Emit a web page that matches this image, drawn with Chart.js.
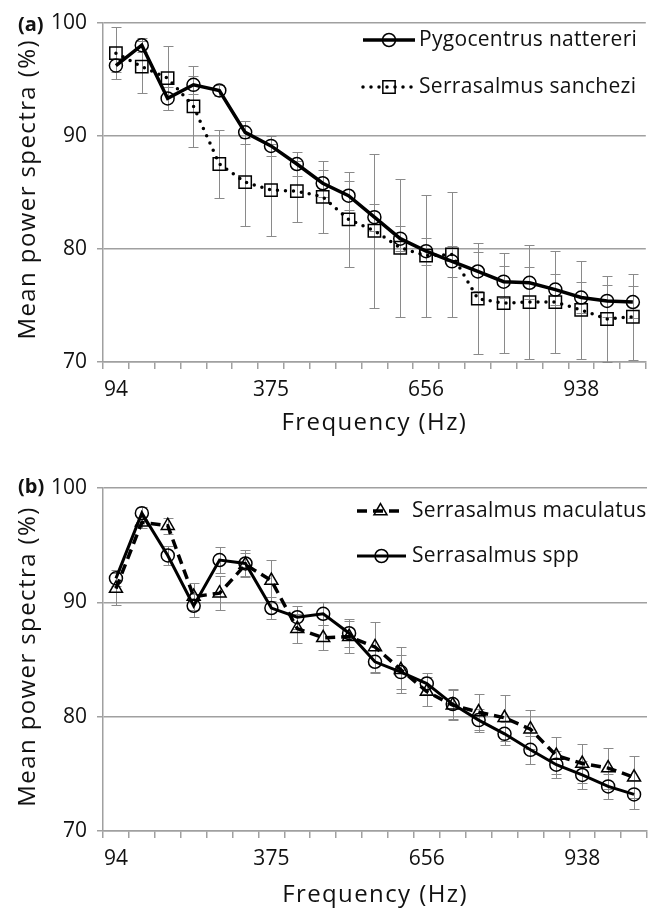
<!DOCTYPE html>
<html>
<head>
<meta charset="utf-8">
<script src="https://cdn.jsdelivr.net/npm/chart.js"></script>
<style>
  html, body { margin: 0; padding: 0; background: #fff; }
  #wrap { position: relative; width: 656px; height: 909px; }
  .panel { position: absolute; left: 0; width: 656px; }
  #panelA { top: 0; height: 445px; }
  #panelB { top: 462px; height: 447px; }
</style>
</head>
<body>
<div id="wrap">
  <div class="panel" id="panelA"><canvas id="chartA" width="656" height="445"></canvas></div>
  <div class="panel" id="panelB"><canvas id="chartB" width="656" height="447"></canvas></div>
</div>
<script>
'use strict';

// ─── Data ─────────────────────────────────────────────────────────────────────

const freqLabels = ['94', '141', '188', '234', '281', '328', '375', '422', '469', '516', '563',
                    '609', '656', '703', '750', '797', '844', '891', '938', '984', '1031'];

// panel (a)
const nattereri     = [96.2, 98.0, 93.3, 94.5, 94.0, 90.3, 89.1, 87.5, 85.8, 84.7, 82.8,
                       80.9, 79.8, 78.9, 78.0, 77.1, 77.0, 76.4, 75.7, 75.4, 75.3];
const nattereriErr  = [0.6, 0.6, 1.0, 0.8, 0.5, 1.0, 0.9, 1.1, 1.2, 1.3, 1.2,
                       1.1, 1.2, 1.35, 1.7, 1.4, 1.4, 1.4, 1.4, 1.45, 1.45];
const sanchezi      = [97.3, 96.1, 95.1, 92.6, 87.5, 85.9, 85.2, 85.1, 84.6, 82.6, 81.6,
                       80.1, 79.4, 79.5, 75.6, 75.2, 75.3, 75.3, 74.6, 73.8, 74.0];
const sanchezErr    = [2.3, 2.3, 2.8, 3.6, 3.0, 3.9, 4.1, 2.7, 3.2, 4.2, 6.8,
                       6.1, 5.4, 5.5, 4.9, 4.4, 5.0, 4.5, 4.3, 3.8, 3.8];

// panel (b)
const maculatus     = [91.2, 97.0, 96.7, 90.5, 90.8, 93.3, 91.9, 87.7, 86.9, 87.0, 86.1,
                       84.1, 82.2, 81.0, 80.4, 79.9, 78.9, 76.6, 75.9, 75.5, 74.7];
const maculatusErr  = [1.4, 0.5, 0.7, 1.2, 1.5, 1.0, 1.8, 1.3, 1.1, 1.4, 2.2,
                       2.0, 1.3, 1.3, 1.6, 2.0, 1.7, 1.6, 1.7, 1.8, 1.85];
const sppMean       = [92.1, 97.8, 94.1, 89.7, 93.7, 93.4, 89.5, 88.7, 89.0, 87.3, 84.8,
                       83.9, 82.9, 81.1, 79.7, 78.5, 77.1, 75.8, 74.9, 73.9, 73.2];
const sppErr        = [0.7, 0.5, 0.8, 1.0, 1.1, 1.2, 1.0, 1.0, 1.0, 1.2, 1.0,
                       1.5, 0.9, 1.3, 1.0, 1.0, 1.2, 1.2, 1.2, 1.1, 1.25];

const yTicks = [70, 80, 90, 100];

const X_TITLE = 'Frequency (Hz)';
const Y_TITLE = 'Mean power spectra (%)';

// ─── Styling ──────────────────────────────────────────────────────────────────

const FONT  = "'Open Sans', 'Noto Sans', sans-serif";
const INK   = '#111';
const GRID  = '#a0a0a0';
const ERR   = '#8a8a8a';
const CLEAR = 'rgba(255,255,255,0)';

Chart.defaults.font.family = FONT;
Chart.defaults.font.size   = 21;
Chart.defaults.color       = INK;

// ─── Plugins ──────────────────────────────────────────────────────────────────

// vertical error bars with caps, drawn under the series lines
const errorBars = {
  id: 'errorBars',
  beforeDatasetsDraw(chart) {
    const ctx = chart.ctx;
    const y = chart.scales.y;
    ctx.save();
    ctx.strokeStyle = ERR;
    ctx.lineWidth = 1;
    chart.data.datasets.forEach((ds, i) => {
      const meta = chart.getDatasetMeta(i);
      meta.data.forEach((pt, j) => {
        const v = ds.data[j], e = ds.errors[j];
        const x  = Math.round(pt.x) + 0.5;
        const y0 = Math.round(y.getPixelForValue(v + e)) + 0.5;
        const y1 = Math.round(y.getPixelForValue(v - e)) + 0.5;
        ctx.beginPath();
        ctx.moveTo(x, y0); ctx.lineTo(x, y1);
        ctx.moveTo(x - 5, y0); ctx.lineTo(x + 5, y0);
        ctx.moveTo(x - 5, y1); ctx.lineTo(x + 5, y1);
        ctx.stroke();
      });
    });
    ctx.restore();
  },
};

// legend drawn inside the plot, Excel style (line – marker – line, then text)
const insetLegend = {
  id: 'insetLegend',
  afterDraw(chart, args, opts) {
    if (!opts.items) return;
    const ctx = chart.ctx;
    ctx.save();
    ctx.textBaseline = 'middle';
    ctx.textAlign = 'left';
    opts.items.forEach(item => {
      const ds = chart.data.datasets[item.index];
      ctx.strokeStyle = ds.borderColor;
      ctx.lineWidth = ds.borderWidth;
      ctx.lineCap = ds.borderCapStyle || 'butt';
      ctx.setLineDash(ds.borderDash || []);
      ctx.beginPath();
      ctx.moveTo(item.x0, item.y);
      ctx.lineTo(item.x1, item.y);
      ctx.stroke();
      ctx.setLineDash([]);
      ctx.lineCap = 'butt';
      ctx.strokeStyle = ds.pointBorderColor;
      ctx.fillStyle = ds.pointBackgroundColor;
      ctx.lineWidth = ds.pointBorderWidth;
      Chart.helpers.drawPoint(ctx, {
        pointStyle: ds.pointStyle,
        radius: ds.pointRadius,
        borderWidth: ds.pointBorderWidth,
        rotation: 0,
      }, (item.x0 + item.x1) / 2, item.y);
      ctx.fillStyle = INK;
      ctx.font = `21px ${FONT}`;
      ctx.letterSpacing = '0.3px';
      ctx.fillText(ds.label, item.tx, item.y);
      ctx.letterSpacing = '0px';
    });
    ctx.restore();
  },
};

// "(a)" / "(b)" tag and the two axis titles (Excel spaces its letters a bit wider)
const decor = {
  id: 'decor',
  afterDraw(chart, args, opts) {
    const ctx = chart.ctx;
    const area = chart.chartArea;
    ctx.save();
    ctx.fillStyle = INK;
    ctx.textBaseline = 'middle';

    ctx.font = `bold 20px ${FONT}`;
    ctx.textAlign = 'left';
    ctx.fillText(opts.tag, 18, opts.tagY);

    ctx.font = `24px ${FONT}`;
    ctx.letterSpacing = '1.4px';
    ctx.textAlign = 'center';
    ctx.fillText(X_TITLE, (area.left + area.right) / 2, opts.xTitleY);

    ctx.translate(28, (area.top + area.bottom) / 2 - 3);
    ctx.rotate(-Math.PI / 2);
    ctx.fillText(Y_TITLE, 0, 0);
    ctx.restore();
  },
};

// ─── Chart factory ────────────────────────────────────────────────────────────

function series(label, data, errors, style) {
  return Object.assign({
    label,
    data,
    errors,
    borderColor: '#000',
    pointBorderColor: '#000',
    pointBackgroundColor: CLEAR,
    pointBorderWidth: 1.5,
    pointHoverRadius: 0,
    tension: 0,
    fill: false,
  }, style);
}

const SOLID   = { borderWidth: 3.5, pointStyle: 'circle', pointRadius: 6.5 };
const DOTTED  = { borderWidth: 3.5, borderDash: [0, 8], borderCapStyle: 'round', pointStyle: 'rect', pointRadius: 8.7 };
const DASHED  = { borderWidth: 3.5, borderDash: [10, 6], pointStyle: 'triangle', pointRadius: 7.5 };

function buildPanel(id, cfg) {
  return new Chart(document.getElementById(id), {
    type: 'line',
    data: { labels: freqLabels, datasets: cfg.datasets },
    plugins: [errorBars, insetLegend, decor],
    options: {
      responsive: false,
      animation: false,
      events: [],
      layout: { padding: { top: cfg.padTop, right: 3, left: 0, bottom: 0 } },
      plugins: {
        legend: { display: false },
        tooltip: { enabled: false },
        insetLegend: { items: cfg.legend },
        decor: { tag: cfg.tag, tagY: 25, xTitleY: cfg.xTitleY },
      },
      scales: {
        x: {
          type: 'category',
          offset: true,
          afterFit: s => { s.height = cfg.xHeight; },
          grid: { offset: true, drawOnChartArea: false, drawTicks: true, tickLength: 7, color: GRID, lineWidth: 1.5 },
          border: { color: GRID, width: 1.5 },
          ticks: {
            autoSkip: false,
            maxRotation: 0,
            padding: 8,
            color: INK,
            callback(v, i) { return i % 6 === 0 ? this.getLabelForValue(v) : ''; },
          },
        },
        y: {
          min: 70,
          max: 100,
          afterFit: s => { s.width = 103; },
          afterBuildTicks: s => { s.ticks = yTicks.map(v => ({ value: v })); },
          grid: { color: GRID, lineWidth: 1.5, tickLength: 6 },
          border: { color: GRID, width: 1.5 },
          ticks: { padding: 10, color: INK },
        },
      },
    },
  });
}

// ─── Build both panels ────────────────────────────────────────────────────────

buildPanel('chartA', {
  tag: '(a)',
  padTop: 19,
  xHeight: 83,
  xTitleY: 423,
  datasets: [
    series('Pygocentrus nattereri', nattereri, nattereriErr, SOLID),
    series('Serrasalmus sanchezi', sanchezi, sanchezErr, DOTTED),
  ],
  legend: [
    { index: 0, x0: 363, x1: 415, tx: 419, y: 40 },
    { index: 1, x0: 363, x1: 415, tx: 419, y: 87 },
  ],
});

buildPanel('chartB', {
  tag: '(b)',
  padTop: 26,
  xHeight: 78,
  xTitleY: 433,
  datasets: [
    series('Serrasalmus spp', sppMean, sppErr, Object.assign({}, SOLID, { borderWidth: 3 })),
    series('Serrasalmus maculatus', maculatus, maculatusErr, DASHED),
  ],
  legend: [
    { index: 1, x0: 357, x1: 404, tx: 412, y: 49 },
    { index: 0, x0: 357, x1: 406, tx: 412, y: 94 },
  ],
});
</script>
</body>
</html>
